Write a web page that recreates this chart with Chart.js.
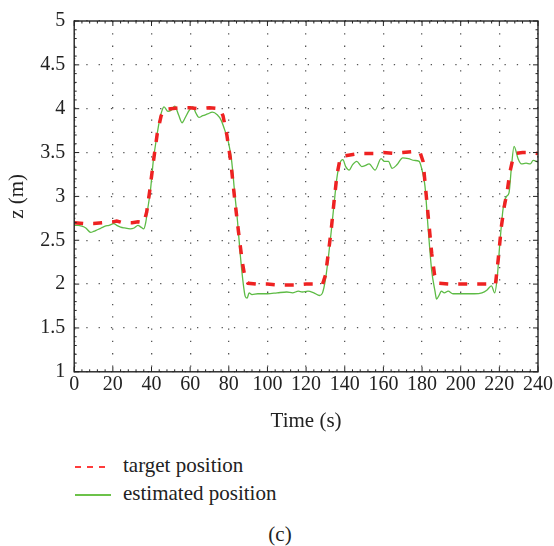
<!DOCTYPE html>
<html>
<head>
<meta charset="utf-8">
<script src="https://cdn.jsdelivr.net/npm/chart.js@4"></script>
<style>
    body { margin: 0; background: #fff; }
    #wrap { position: relative; width: 554px; height: 546px; font-family: 'Liberation Serif', serif; color: #222; }
    #chartBox { position: absolute; left: 0; top: 0; width: 554px; height: 442px; }
    .legend-row { position: absolute; left: 75px; height: 26px; line-height: 26px; font-size: 21px; white-space: nowrap; }
    .legend-row .sample { display: inline-block; width: 36px; height: 1.5px; vertical-align: middle; margin-right: 12px; }
    .sample.dashed { background: repeating-linear-gradient(90deg, #ff3b3b 0 6px, transparent 6px 12px); }
    .sample.solid { background: #6cc24a; }
    #caption { position: absolute; left: 0; width: 560px; top: 521px; text-align: center; font-size: 21px; line-height: 26px; }
</style>
</head>
<body>
<div id="wrap">
    <div id="chartBox"><canvas id="zChart"></canvas></div>
    <div class="legend-row" style="top: 452px;"><span class="sample dashed"></span>target position</div>
    <div class="legend-row" style="top: 480px;"><span class="sample solid"></span>estimated position</div>
    <div id="caption">(c)</div>
</div>
<script>
// Target position (red dashed)
const targetTime = [0, 5, 10, 15, 20, 22, 25, 30, 33, 36, 37.5, 39, 41, 43, 45, 46.5, 50, 55, 60, 65, 70, 75.5,
    77, 79, 81, 83, 85, 87, 88.5, 90, 95, 100, 105, 110, 115, 120, 125, 128.5, 130, 131.5, 133, 134.5, 136,
    137.5, 139, 145, 150, 155, 160, 165, 170, 175, 179, 180.5, 182, 183.5, 185, 186.5, 188, 195, 200, 205,
    210, 215, 218, 219.5, 221, 222.5, 224, 225.5, 227, 228.5, 232, 236, 240];
const targetZ = [2.70, 2.69, 2.69, 2.70, 2.71, 2.72, 2.70, 2.70, 2.71, 2.70, 2.82, 3.05, 3.40, 3.72, 3.92, 3.99,
    4.00, 4.01, 4.01, 4.00, 4.01, 4.00, 3.92, 3.70, 3.40, 2.98, 2.60, 2.25, 2.06, 2.01, 2.00, 2.00, 1.99, 1.99,
    1.99, 2.00, 2.00, 2.00, 2.10, 2.35, 2.62, 2.95, 3.25, 3.42, 3.46, 3.48, 3.49, 3.49, 3.50, 3.49, 3.50, 3.51,
    3.50, 3.40, 3.05, 2.70, 2.35, 2.10, 2.01, 2.00, 2.00, 2.00, 2.00, 2.00, 2.00, 2.30, 2.65, 2.88, 3.05, 3.28,
    3.43, 3.49, 3.50, 3.50, 3.49];

// Estimated position (green)
const estTime = [0, 2, 4, 6, 8.5, 10, 12, 14, 16, 18, 20.5, 22, 24, 26, 29, 31, 33, 34.5, 36, 37, 38, 39.5, 41,
    42.5, 44, 45.3, 46.5, 48.5, 50, 52, 54, 55.8, 57.5, 59.5, 61.4, 63, 64.5, 66.5, 69, 71.5, 74, 76, 78, 80,
    81.5, 83, 84.5, 86, 87.5, 88.5, 89.5, 90.5, 92, 95, 100, 105, 110, 113, 116, 118, 121, 124, 127, 128.5,
    130, 131.5, 133, 134.5, 136, 137.5, 139, 140.5, 142.3, 144, 146.2, 148.8, 150.5, 152.6, 155.7, 158.8,
    160.5, 162.6, 164.5, 167, 170, 173, 176, 178.5, 180, 181.5, 183.2, 185, 186.7, 187.5, 189, 190, 191.5,
    193.5, 196, 199, 203, 207, 211, 213.5, 215.9, 217.6, 219, 220.2, 222, 223.7, 225, 226.2, 227.6, 229.7,
    231.4, 233.8, 236, 237.5, 240];
const estZ = [2.67, 2.67, 2.66, 2.64, 2.59, 2.60, 2.62, 2.64, 2.66, 2.67, 2.69, 2.67, 2.65, 2.64, 2.63, 2.64,
    2.67, 2.65, 2.63, 2.70, 2.85, 3.08, 3.42, 3.65, 3.85, 3.97, 4.02, 3.97, 3.98, 4.03, 3.93, 3.84, 3.90, 3.98,
    4.02, 3.95, 3.90, 3.92, 3.94, 3.96, 3.93, 3.87, 3.75, 3.60, 3.40, 3.05, 2.72, 2.32, 2.00, 1.86, 1.84, 1.90,
    1.88, 1.89, 1.89, 1.90, 1.91, 1.90, 1.92, 1.91, 1.92, 1.90, 1.87, 1.90, 2.05, 2.30, 2.60, 2.92, 3.22, 3.38,
    3.42, 3.34, 3.30, 3.36, 3.40, 3.34, 3.35, 3.37, 3.30, 3.43, 3.40, 3.40, 3.32, 3.36, 3.44, 3.43, 3.41, 3.40,
    3.30, 3.12, 2.62, 2.15, 1.92, 1.83, 1.88, 1.92, 1.90, 1.92, 1.89, 1.89, 1.89, 1.89, 1.90, 1.93, 1.98, 1.90,
    2.10, 2.45, 2.87, 3.00, 3.04, 3.32, 3.57, 3.43, 3.37, 3.38, 3.37, 3.41, 3.39];

const xRange = [0, 240];
const yRange = [1, 5];
const xStep = 20, xMinor = 4;
const yStep = 0.5, yMinor = 0.1;

const serif = "'Liberation Serif', serif";
const toPoints = (xs, ys) => xs.map((t, i) => ({ x: t, y: ys[i] }));

// Box frame with inward major / minor ticks
const frameTicks = {
    id: 'frameTicks',
    afterDatasetsDraw(chart) {
        const { ctx, chartArea: a, scales: { x, y } } = chart;
        ctx.save();
        ctx.strokeStyle = '#222';
        ctx.lineWidth = 1.4;
        ctx.strokeRect(a.left, a.top, a.right - a.left, a.bottom - a.top);
        ctx.lineWidth = 1;
        ctx.beginPath();
        for (let k = 0; k * xMinor <= xRange[1] - xRange[0]; k++) {
            const px = x.getPixelForValue(xRange[0] + k * xMinor);
            const len = (k * xMinor) % xStep === 0 ? 5 : 2.5;
            ctx.moveTo(px, a.bottom); ctx.lineTo(px, a.bottom - len);
            ctx.moveTo(px, a.top); ctx.lineTo(px, a.top + len);
        }
        for (let k = 0; k * yMinor <= yRange[1] - yRange[0] + 1e-9; k++) {
            const py = y.getPixelForValue(yRange[0] + k * yMinor);
            const len = k % Math.round(yStep / yMinor) === 0 ? 5 : 2.5;
            ctx.moveTo(a.left, py); ctx.lineTo(a.left + len, py);
            ctx.moveTo(a.right, py); ctx.lineTo(a.right - len, py);
        }
        ctx.stroke();
        ctx.restore();
    }
};

const gridStyle = { color: '#555', lineWidth: 1.3, drawTicks: false };
const borderStyle = { display: false, dash: [1.3, 11] };

function drawChart() {
    new Chart(document.getElementById('zChart'), {
        type: 'line',
        data: {
            datasets: [{
                label: 'target position',
                data: toPoints(targetTime, targetZ),
                borderColor: '#ee2222',
                borderWidth: 3.5,
                borderDash: [9, 10],
                pointRadius: 0,
                tension: 0
            }, {
                label: 'estimated position',
                data: toPoints(estTime, estZ),
                borderColor: '#5dbb45',
                borderWidth: 1.3,
                pointRadius: 0,
                cubicInterpolationMode: 'monotone'
            }]
        },
        options: {
            responsive: true,
            maintainAspectRatio: false,
            animation: false,
            layout: { padding: { left: 0, top: 17, right: 0, bottom: 6 } },
            plugins: { legend: { display: false }, tooltip: { enabled: false } },
            scales: {
                x: {
                    type: 'linear',
                    min: xRange[0],
                    max: xRange[1],
                    grid: gridStyle,
                    border: borderStyle,
                    ticks: { stepSize: xStep, padding: 1, color: '#222', font: { family: serif, size: 20 } },
                    title: { display: true, text: 'Time (s)', color: '#222', padding: { top: 11, bottom: 2 }, font: { family: serif, size: 21 } }
                },
                y: {
                    min: yRange[0],
                    max: yRange[1],
                    grid: gridStyle,
                    border: borderStyle,
                    ticks: {
                        stepSize: yStep, padding: 9, color: '#222', font: { family: serif, size: 20 },
                        callback: v => String(v)
                    },
                    title: { display: true, text: 'z (m)', color: '#222', padding: { top: 5, bottom: 1 }, font: { family: serif, size: 21 } }
                }
            }
        },
        plugins: [frameTicks]
    });
}

// make sure the serif face is ready before the canvas uses it
document.fonts.load("20px 'Liberation Serif'").then(drawChart, drawChart);
</script>
</body>
</html>
